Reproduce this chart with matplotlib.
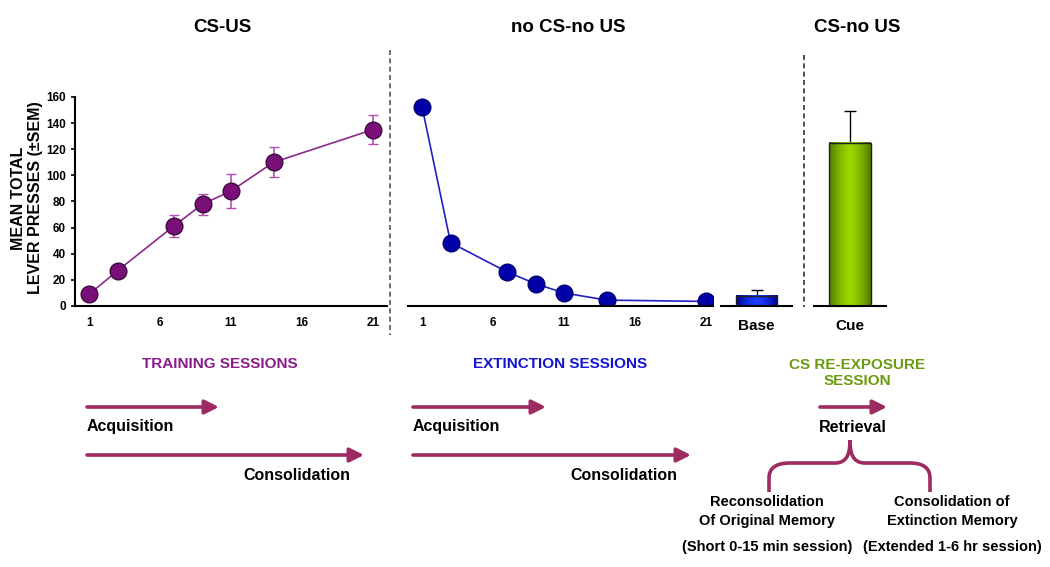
import matplotlib.pyplot as plt
import numpy as np
from matplotlib.path import Path
from matplotlib.patches import PathPatch

plt.rcParams['font.family'] = ['Liberation Sans', 'DejaVu Sans']
plt.rcParams['font.weight'] = 'bold'

# data
train_x = [1, 3, 7, 9, 11, 14, 21]
train_y = [9, 27, 61.5, 78, 88, 110, 135]
train_err = [1.5, 2, 8.5, 8, 13, 11.5, 11]

ext_x = [1, 3, 7, 9, 11, 14, 21]
ext_y = [152, 48.5, 26, 17, 10, 4.5, 3.5]
ext_err = [4, 1.5, 1.5, 1, 1, 0.5, 0.5]

base_val, base_err = 8, 4.5
cue_val, cue_err = 125, 24

xticks = [1, 6, 11, 16, 21]
yticks = [0, 20, 40, 60, 80, 100, 120, 140, 160]

W, H = 1050, 567
fig = plt.figure(figsize=(W / 100, H / 100), dpi=100)

def box(x0, x1, y_top, y_bot):
    return [x0 / W, 1 - y_bot / H, (x1 - x0) / W, (y_bot - y_top) / H]

PURPLE = '#7a0f7a'
BLUE = '#0000a8'
ARROW = '#9e2a62'

# overlay axes in pixel coordinates
ov = fig.add_axes([0, 0, 1, 1])
ov.set_xlim(0, W)
ov.set_ylim(H, 0)
ov.axis('off')

# training panel
ax1 = fig.add_axes(box(75, 387, 97, 306))
ax1.errorbar(train_x, train_y, yerr=train_err, color='#8b2a8b', lw=1.2,
             ecolor='#b050b0', elinewidth=1.2, capsize=3.5, marker='o',
             ms=12, mfc=PURPLE, mec='#3c0a3c', mew=1)
ax1.set_xlim(0, 22)
ax1.set_ylim(0, 160)
ax1.set_yticks(yticks)
ax1.set_xticks(xticks)
ax1.spines[['top', 'right']].set_visible(False)
ax1.spines[['left', 'bottom']].set_linewidth(1.5)
ax1.tick_params(axis='x', length=0, pad=8, labelsize=8.5)
ax1.tick_params(axis='y', length=3, width=1.2, labelsize=8.5)
ov.text(27, 198, 'MEAN TOTAL\nLEVER PRESSES (\u00b1SEM)', rotation=90,
        ha='center', va='center', fontsize=11.5, fontweight='bold',
        linespacing=1.15)

# extinction panel
ax2 = fig.add_axes(box(408, 713, 97, 306))
ax2.errorbar(ext_x, ext_y, yerr=ext_err, color='#2020c0', lw=1.2,
             ecolor='#2020c0', elinewidth=1, capsize=3, marker='o',
             ms=12, mfc=BLUE, mec='#000070', mew=1)
ax2.set_xlim(0, 21.5)
ax2.set_ylim(0, 160)
ax2.set_xticks(xticks)
ax2.set_yticks([])
ax2.spines[['top', 'right', 'left']].set_visible(False)
ax2.spines['bottom'].set_linewidth(1.5)
ax2.tick_params(axis='x', length=0, pad=8, labelsize=8.5)


def grad_bar(ax, val, err, c_edge, c_mid):
    ax.bar([0], [val], width=0.58, color='none', edgecolor='#202020', lw=1, zorder=3)
    ax.errorbar([0], [val], yerr=[[0], [err]], color='black', lw=1, capsize=4, zorder=2)
    t = np.abs(np.linspace(-1, 1, 64))
    e = np.array(plt.matplotlib.colors.to_rgb(c_edge))
    m = np.array(plt.matplotlib.colors.to_rgb(c_mid))
    img = (m[None, :] * (1 - t[:, None] ** 1.5) + e[None, :] * t[:, None] ** 1.5)[None, :, :]
    ax.imshow(img, extent=[-0.29, 0.29, 0, val], aspect='auto', zorder=2.5)
    ax.set_xlim(-0.5, 0.5)
    ax.set_ylim(0, 160)
    ax.set_yticks([])
    ax.spines[['top', 'right', 'left']].set_visible(False)
    ax.spines['bottom'].set_linewidth(1.5)
    ax.tick_params(axis='x', length=0, pad=9, labelsize=11)


ax3 = fig.add_axes(box(721, 792, 97, 306))
grad_bar(ax3, base_val, base_err, '#00008a', '#1a3cff')
ax3.set_xticks([0], ['Base'])

ax4 = fig.add_axes(box(814, 886, 97, 306))
grad_bar(ax4, cue_val, cue_err, '#4f7a00', '#9ad600')
ax4.set_xticks([0], ['Cue'])

# dashed separators
ov.plot([390, 390], [50, 335], ls=(0, (3, 2)), color='#555555', lw=1.2)
ov.plot([804, 804], [55, 307], ls=(0, (3, 2)), color='#333333', lw=1.2)

# titles
for x, s in [(222, 'CS-US'), (568, 'no CS-no US'), (857, 'CS-no US')]:
    ov.text(x, 28, s, ha='center', va='center', fontsize=13.5, fontweight='bold')

ov.text(220, 364, 'TRAINING SESSIONS', ha='center', va='center',
        fontsize=11, fontweight='bold', color='#8b1a8b')
ov.text(560, 364, 'EXTINCTION SESSIONS', ha='center', va='center',
        fontsize=11, fontweight='bold', color='#1414d0')
ov.text(857, 373, 'CS RE-EXPOSURE\nSESSION', ha='center', va='center',
        fontsize=11, fontweight='bold', color='#6a9a10', linespacing=1.1)


def arrow(x0, x1, y):
    ov.annotate('', xy=(x1, y), xytext=(x0, y),
                arrowprops=dict(arrowstyle='-|>,head_length=0.6,head_width=0.3',
                                lw=2.6, color=ARROW, shrinkA=0, shrinkB=0,
                                mutation_scale=14))


arrow(87, 219, 407)
arrow(87, 364, 455)
arrow(413, 546, 407)
arrow(413, 691, 455)
arrow(820, 887, 407)

kw = dict(fontsize=11.5, fontweight='bold', va='center')
ov.text(87, 427, 'Acquisition', ha='left', **kw)
ov.text(350, 475, 'Consolidation', ha='right', **kw)
ov.text(413, 427, 'Acquisition', ha='left', **kw)
ov.text(677, 475, 'Consolidation', ha='right', **kw)
ov.text(853, 427, 'Retrieval', ha='center', **kw)

# brace
verts = [(769, 492), (769, 478), (769, 463), (790, 463),
         (835, 463), (848, 463), (850, 452), (850, 440),
         (850, 452), (852, 463), (865, 463),
         (910, 463), (930, 463), (930, 478), (930, 492)]
codes = [Path.MOVETO, Path.LINETO, Path.CURVE3, Path.CURVE3,
         Path.LINETO, Path.CURVE4, Path.CURVE4, Path.CURVE4,
         Path.CURVE4, Path.CURVE4, Path.CURVE4,
         Path.LINETO, Path.CURVE3, Path.CURVE3, Path.LINETO]
ov.add_patch(PathPatch(Path(verts, codes), fill=False, lw=2.6,
                       edgecolor=ARROW, capstyle='butt'))

kw2 = dict(fontsize=10.5, fontweight='bold', va='center', ha='center')
ov.text(767, 502, 'Reconsolidation', **kw2)
ov.text(767, 521, 'Of Original Memory', **kw2)
ov.text(767, 547, '(Short 0-15 min session)', **kw2)
ov.text(952, 502, 'Consolidation of', **kw2)
ov.text(952, 521, 'Extinction Memory', **kw2)
ov.text(952, 547, '(Extended 1-6 hr session)', **kw2)

fig.savefig('out.png', dpi=100)
